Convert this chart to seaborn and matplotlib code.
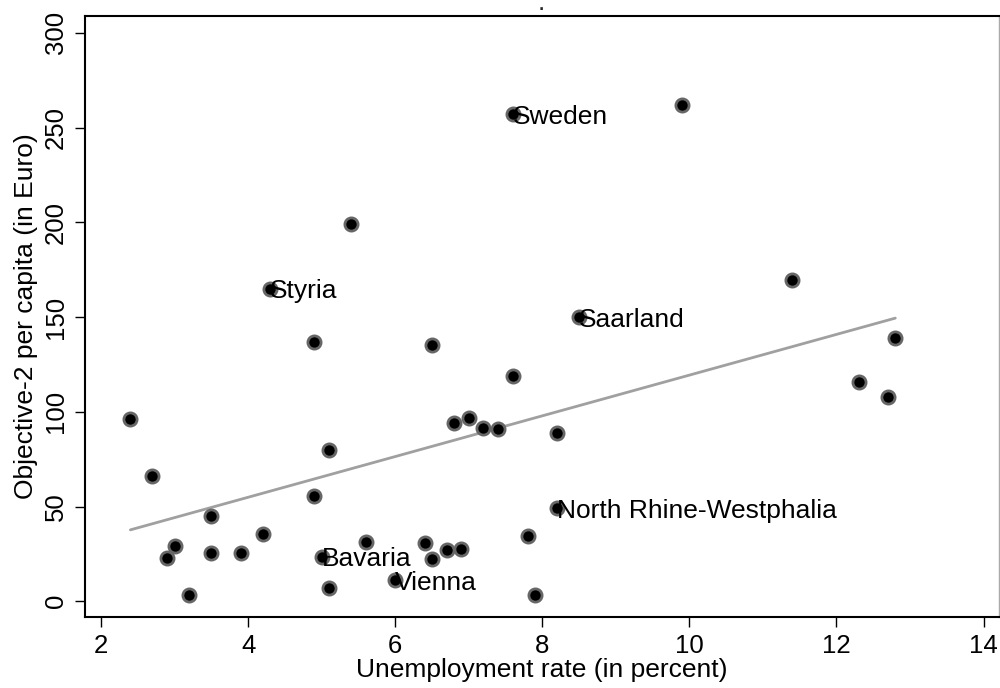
import matplotlib
matplotlib.use("Agg")
import matplotlib.pyplot as plt
import seaborn as sns
import pandas as pd

unemployment = [2.4, 2.7, 2.9, 3.0, 3.2, 3.5, 3.5, 3.9, 4.2, 4.3, 4.9, 4.9, 5.0, 5.1, 5.1,
                5.4, 5.6, 6.0, 6.4, 6.5, 6.5, 6.7, 6.9, 6.8, 7.0, 7.2, 7.4, 7.6, 7.6, 7.8,
                7.9, 8.2, 8.2, 8.5, 9.9, 11.4, 12.3, 12.7, 12.8]
objective2 = [96, 66, 23, 29, 3.5, 45, 25.7, 25.7, 35.7, 165, 136.7, 55.8, 23.6, 80, 7.2,
              199, 31.5, 11, 30.5, 135, 22.5, 27.3, 27.8, 94, 96.5, 91.7, 90.7, 118.7, 257, 34.7,
              3.5, 88.6, 49, 150, 262, 169.5, 115.5, 108, 139]
region = ["", "", "", "", "", "", "", "", "", "Styria", "", "", "Bavaria", "", "",
          "", "", "Vienna", "", "", "", "", "", "", "", "", "", "", "Sweden", "",
          "", "", "North Rhine-Westphalia", "Saarland", "", "", "", "", ""]

df = pd.DataFrame({"unemp": unemployment, "obj2": objective2, "region": region})

sns.set_theme(style="white")
plt.rcParams["font.family"] = ["Liberation Sans", "DejaVu Sans"]

fig = plt.figure(figsize=(10, 6.88), dpi=100)
ax = fig.add_axes([0.0845, 0.1028, 0.9145, 0.8742])

sns.regplot(data=df, x="unemp", y="obj2", scatter=False, ci=None, truncate=True,
            line_kws={"color": "#a0a0a0", "linewidth": 2}, ax=ax)
sns.scatterplot(data=df, x="unemp", y="obj2", s=90, color="black",
                edgecolor="#666666", linewidth=2, ax=ax, zorder=3)

for _, r in df.iterrows():
    if r["region"]:
        ax.annotate(r["region"], (r["unemp"], r["obj2"]), xytext=(0, -2),
                    textcoords="offset points", ha="left", va="center",
                    fontsize=19, color="black", zorder=4)

ax.set_xlim(1.776, 14.21)
ax.set_ylim(-8.45, 309)
ax.set_xticks([2, 4, 6, 8, 10, 12, 14])
ax.set_yticks([0, 50, 100, 150, 200, 250, 300])
ax.tick_params(axis="both", which="major", direction="out", length=7, width=1,
               color="black", labelsize=18.5, labelcolor="black", pad=5,
               bottom=True, left=True)
for lab in ax.get_yticklabels():
    lab.set_rotation(90)
    lab.set_va("center")

ax.set_xlabel("Unemployment rate (in percent)", fontsize=19, color="black", labelpad=0)
ax.set_ylabel("Objective-2 per capita (in Euro)", fontsize=19, color="black", labelpad=4)
ax.set_title(".", fontsize=19, pad=4)

for side in ["left", "bottom", "top"]:
    ax.spines[side].set_color("black")
    ax.spines[side].set_linewidth(1.5)
ax.spines["right"].set_color("#aaaaaa")
ax.spines["right"].set_linewidth(1)

fig.savefig("out.png", dpi=100)
